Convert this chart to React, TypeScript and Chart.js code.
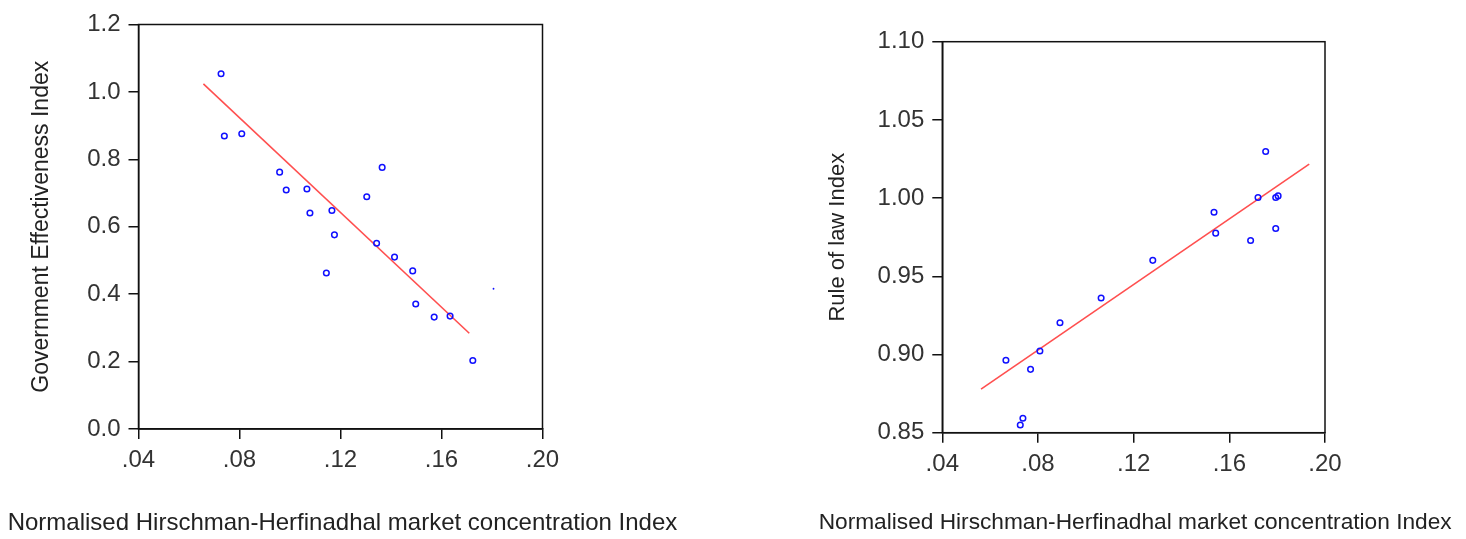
import React, { useEffect, useRef } from "react";
import { Chart, registerables } from "chart.js";

Chart.register(...registerables);

// ---- Data: Government Effectiveness chart ----
const geX = [0.0727, 0.074, 0.0809, 0.0959, 0.0985, 0.1067, 0.1079, 0.1166, 0.1176, 0.1144, 0.1304, 0.1365, 0.1343, 0.1414, 0.1486, 0.1498, 0.1571, 0.1634, 0.1724];
const geY = [1.054, 0.869, 0.876, 0.762, 0.709, 0.712, 0.641, 0.648, 0.576, 0.463, 0.689, 0.776, 0.551, 0.51, 0.469, 0.371, 0.332, 0.335, 0.203];
const geDotX = [0.1806];
const geDotY = [0.416];
const geFitX = [0.0657, 0.171];
const geFitY = [1.024, 0.284];

// ---- Data: Rule of law chart ----
const rlX = [0.0666, 0.0726, 0.0737, 0.0769, 0.0808, 0.0892, 0.1064, 0.128, 0.1536, 0.1543, 0.1689, 0.172, 0.1752, 0.1794, 0.1794, 0.1804];
const rlY = [0.8963, 0.8549, 0.8592, 0.8905, 0.9022, 0.9203, 0.9361, 0.9602, 0.991, 0.9776, 0.9729, 1.0004, 1.0298, 0.9806, 1.0004, 1.0014];
const rlFitX = [0.0562, 0.1934];
const rlFitY = [0.8779, 1.0217];

const xTitle = "Normalised Hirschman-Herfinadhal market concentration Index";
const geTitle = "Government Effectiveness Index";
const rlTitle = "Rule of law Index";

const FONT = "'Liberation Sans', Arial, sans-serif";

const zip = (xs: number[], ys: number[]) => xs.map((x, i) => ({ x, y: ys[i] }));

const framePlugin = {
  id: "frame",
  afterDatasetsDraw(chart: any) {
    const { ctx, chartArea: a } = chart;
    ctx.save();
    ctx.strokeStyle = "#111";
    ctx.lineWidth = 1.5;
    ctx.strokeRect(a.left, a.top, a.right - a.left, a.bottom - a.top);
    ctx.restore();
  },
};

const xTitlePlugin = {
  id: "xTitleWide",
  afterDraw(chart: any, _args: any, opts: any) {
    const { ctx, chartArea: a } = chart;
    ctx.save();
    ctx.fillStyle = "#222";
    ctx.font = `${opts.size}px ${FONT}`;
    ctx.textAlign = "center";
    ctx.textBaseline = "middle";
    ctx.fillText(opts.text, (a.left + a.right) / 2 + (opts.dx || 0), opts.y);
    ctx.restore();
  },
};

type PanelProps = {
  left: number;
  xs: number[];
  ys: number[];
  dotX?: number[];
  dotY?: number[];
  fitX: number[];
  fitY: number[];
  yMin: number;
  yMax: number;
  yStep: number;
  yDecimals: number;
  yTitle: string;
  yTitleSize: number;
  yAxisWidth: number;
  yTitleOffset: number;
  padTop: number;
  padRight: number;
  xAxisHeight: number;
  xTitleDx: number;
  xTitleSize: number;
};

function Panel(p: PanelProps) {
  const ref = useRef<HTMLCanvasElement>(null);
  useEffect(() => {
    if (!ref.current) return;
    const datasets: any[] = [
      {
        type: "line",
        data: zip(p.fitX, p.fitY),
        borderColor: "rgba(255,70,70,0.95)",
        borderWidth: 1.6,
        pointRadius: 0,
        fill: false,
        order: 2,
      },
      {
        type: "scatter",
        data: zip(p.xs, p.ys),
        pointStyle: "circle",
        pointRadius: 2.8,
        borderColor: "#1010ff",
        backgroundColor: "rgba(0,0,0,0)",
        borderWidth: 1.5,
        order: 1,
      },
    ];
    if (p.dotX && p.dotY) {
      datasets.push({
        type: "scatter",
        data: zip(p.dotX, p.dotY),
        pointRadius: 0.9,
        borderWidth: 0,
        backgroundColor: "#1010ff",
        order: 1,
      });
    }
    const gridOpts = {
      drawOnChartArea: false,
      drawTicks: true,
      tickLength: 10,
      color: "#111",
      lineWidth: 1.5,
    };
    const chart = new Chart(ref.current, {
      type: "scatter",
      data: { datasets },
      options: {
        responsive: false,
        animation: false,
        devicePixelRatio: 1,
        layout: { padding: { top: p.padTop, right: p.padRight, left: 0, bottom: 0 } },
        plugins: {
          legend: { display: false },
          tooltip: { enabled: false },
          xTitleWide: { text: xTitle, y: 523, dx: p.xTitleDx, size: p.xTitleSize },
        },
        scales: {
          x: {
            type: "linear",
            min: 0.04,
            max: 0.2,
            grid: gridOpts,
            border: { display: true, color: "#111", width: 1.5 },
            ticks: {
              stepSize: 0.04,
              padding: 7,
              color: "#333",
              font: { family: FONT, size: 24 },
              maxRotation: 0,
              autoSkip: false,
              callback: (v: any) => Number(v).toFixed(2).replace(/^0/, ""),
            },
            title: { display: false },
            afterFit: (s: any) => {
              s.height = p.xAxisHeight;
            },
          },
          y: {
            type: "linear",
            min: p.yMin,
            max: p.yMax,
            grid: gridOpts,
            border: { display: true, color: "#111", width: 1.5 },
            ticks: {
              stepSize: p.yStep,
              padding: 8,
              color: "#333",
              font: { family: FONT, size: 24 },
              autoSkip: false,
              callback: (v: any) => Number(v).toFixed(p.yDecimals),
            },
            title: {
              display: true,
              text: p.yTitle,
              color: "#222",
              font: { family: FONT, size: p.yTitleSize },
              padding: { top: p.yTitleOffset - (p.yTitleSize * 1.2) / 2, bottom: 0 },
            },
            afterFit: (s: any) => {
              s.width = p.yAxisWidth;
            },
          },
        },
      } as any,
      plugins: [framePlugin, xTitlePlugin],
    });
    return () => chart.destroy();
  }, []);
  return (
    <canvas
      ref={ref}
      width={733}
      height={539}
      style={{ position: "absolute", left: p.left, top: 0, width: 733, height: 539 }}
    />
  );
}

export default function App() {
  return (
    <div style={{ position: "absolute", left: 0, top: 0, width: 1466, height: 539, background: "#fff" }}>
      <Panel
        left={0}
        xs={geX}
        ys={geY}
        dotX={geDotX}
        dotY={geDotY}
        fitX={geFitX}
        fitY={geFitY}
        yMin={0}
        yMax={1.2}
        yStep={0.2}
        yDecimals={1}
        yTitle={geTitle}
        yTitleSize={23}
        yAxisWidth={138.5}
        yTitleOffset={42}
        padTop={24.5}
        padRight={190.5}
        xAxisHeight={110}
        xTitleDx={2}
        xTitleSize={24}
      />
      <Panel
        left={733}
        xs={rlX}
        ys={rlY}
        fitX={rlFitX}
        fitY={rlFitY}
        yMin={0.85}
        yMax={1.1}
        yStep={0.05}
        yDecimals={2}
        yTitle={rlTitle}
        yTitleSize={22}
        yAxisWidth={209.3}
        yTitleOffset={105}
        padTop={41.7}
        padRight={141}
        xAxisHeight={106.3}
        xTitleDx={1.5}
        xTitleSize={22.7}
      />
    </div>
  );
}
